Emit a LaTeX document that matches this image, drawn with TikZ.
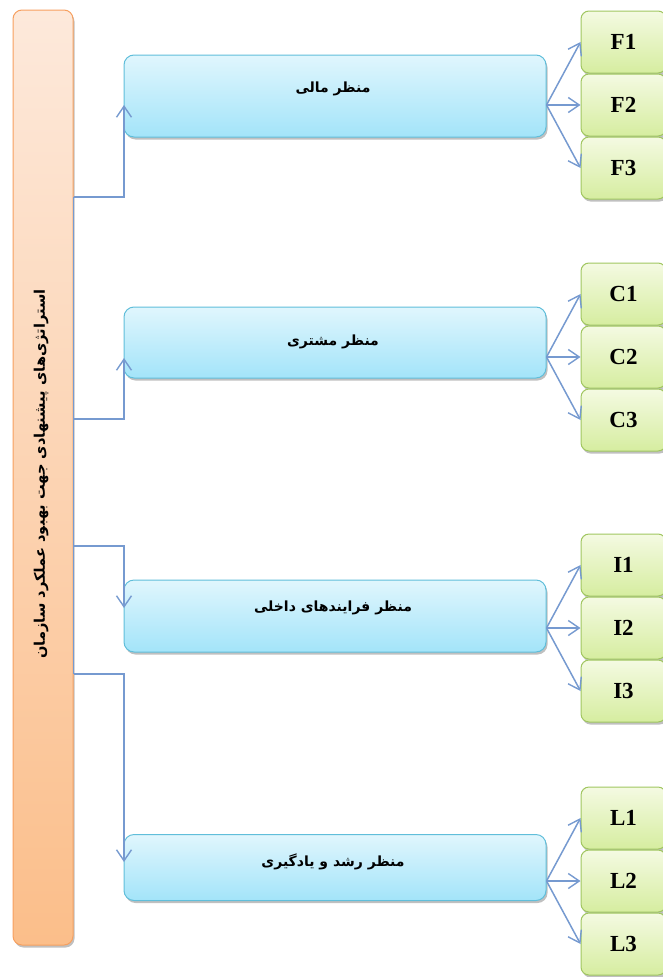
\documentclass[tikz,border=0pt]{standalone}
\usepackage{fontspec}
\setmainfont{Liberation Serif}
\newfontfamily\fa[Script=Arabic]{DejaVu Sans}
\TeXXeTstate=1
\usetikzlibrary{shadows,arrows.meta}

\definecolor{linkblue}{RGB}{118,154,208}
\definecolor{barTop}{RGB}{253,233,219}
\definecolor{barBot}{RGB}{251,190,138}
\definecolor{barLine}{RGB}{247,160,95}
\definecolor{boxTop}{RGB}{224,246,253}
\definecolor{boxBot}{RGB}{163,228,249}
\definecolor{boxLine}{RGB}{96,190,218}
\definecolor{subTop}{RGB}{244,250,226}
\definecolor{subBot}{RGB}{214,237,160}
\definecolor{subLine}{RGB}{160,198,96}

\tikzset{
  softshadow/.style={drop shadow={shadow xshift=1.5pt,shadow yshift=-2.5pt,opacity=0.45,fill=black!55}},
  barbox/.style={draw=barLine,line width=1pt,rounded corners=9pt,top color=barTop,bottom color=barBot,
    minimum width=60pt,minimum height=935pt,inner sep=0pt,softshadow},
  viewbox/.style={draw=boxLine,line width=1pt,rounded corners=10pt,top color=boxTop,bottom color=boxBot,
    minimum width=422pt,inner sep=0pt,softshadow},
  itembox/.style={draw=subLine,line width=1pt,rounded corners=8pt,top color=subTop,bottom color=subBot,
    minimum width=85pt,minimum height=62pt,inner sep=0pt,softshadow,
    font=\fontsize{23}{25}\selectfont\bfseries},
  falabel/.style={font=\fa\bfseries\fontsize{14}{16}\selectfont,inner sep=0pt},
  conn/.style={draw=linkblue,line width=1.5pt},
  tip/.style={-{Straight Barb[length=11pt,width=15pt,line width=1.4pt]}},
}

\begin{document}
\begin{tikzpicture}[x=1pt,y=-1pt]
\useasboundingbox (0,0) rectangle (662,977);

% left bar with the rotated caption
\node[barbox] (bar) at (43,477.5) {};
\node[falabel,font=\fa\bfseries\fontsize{14.6}{16}\selectfont,rotate=90] (bartext) at (41,474)
  {\beginR استراتژی‌های پیشنهادی جهت بهبود عملکرد سازمان\endR};

% the four perspectives
\node[viewbox,minimum height=82pt] (b1) at (335,96) {};
\node[viewbox,minimum height=71pt] (b2) at (335,342.5) {};
\node[viewbox,minimum height=72pt] (b3) at (335,616) {};
\node[viewbox,minimum height=66pt] (b4) at (335,867.5) {};

\node[falabel] (t1) at (333,89) {\beginR منظر مالی\endR};
\node[falabel] (t2) at (333,342) {\beginR منظر مشتری\endR};
\node[falabel] (t3) at (333,608) {\beginR منظر فرایندهای داخلی\endR};
\node[falabel] (t4) at (333,862) {\beginR منظر رشد و یادگیری\endR};

% indicator boxes
\node[itembox] (f1) at (623.5,42)  {F1};
\node[itembox] (f2) at (623.5,105) {F2};
\node[itembox] (f3) at (623.5,168) {F3};
\node[itembox] (c1) at (623.5,294) {C1};
\node[itembox] (c2) at (623.5,357) {C2};
\node[itembox] (c3) at (623.5,420) {C3};
\node[itembox] (i1) at (623.5,565) {I1};
\node[itembox] (i2) at (623.5,628) {I2};
\node[itembox] (i3) at (623.5,691) {I3};
\node[itembox] (l1) at (623.5,818) {L1};
\node[itembox] (l2) at (623.5,881) {L2};
\node[itembox] (l3) at (623.5,944) {L3};

% elbow connectors from the bar
\coordinate (h1) at (124,197);
\coordinate (h2) at (124,419);
\coordinate (h3) at (124,546);
\coordinate (h4) at (124,674);
\coordinate (a1) at (124,105);
\coordinate (a2) at (124,358);
\coordinate (a3) at (124,608);
\coordinate (a4) at (124,862);

\draw[conn] (bar.east |- h1) -- (bar.east |- h4);
\draw[conn,tip] (bar.east |- h1) -- (h1) -- (a1);
\draw[conn,tip] (bar.east |- h2) -- (h2) -- (a2);
\draw[conn,tip] (bar.east |- h3) -- (h3) -- (a3);
\draw[conn,tip] (bar.east |- h4) -- (h4) -- (a4);

% fans to the indicators
\foreach \b/\x in {b1/f,b2/c,b3/i,b4/l}{
  \coordinate (o-\b) at (\b.east |- \x2.west);
  \draw[conn,tip] (o-\b) -- (\x1.west);
  \draw[conn,tip] (o-\b) -- (\x2.west);
  \draw[conn,tip] (o-\b) -- (\x3.west);
}
\end{tikzpicture}
\end{document}
